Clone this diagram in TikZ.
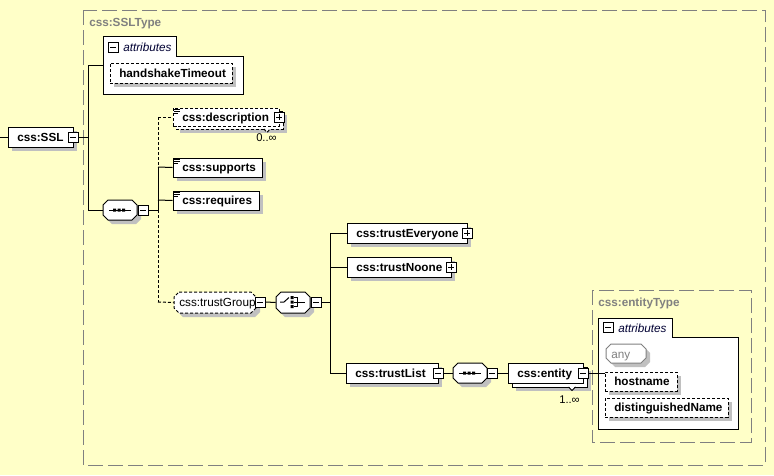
\documentclass[tikz,border=0pt]{standalone}
\usepackage{fontspec}
\setmainfont{Liberation Sans}
\usetikzlibrary{fit,calc}
\definecolor{bg}{HTML}{FFFFC8}
\definecolor{shd}{HTML}{C0C0C0}
\definecolor{frame}{HTML}{808080}
\tikzset{
  box/.style={draw=black, fill=white, line width=0.75pt, inner sep=0pt},
  lbl/.style={font=\fontsize{8.8}{10}\selectfont\bfseries, inner sep=0pt, anchor=base west},
  rlbl/.style={font=\fontsize{8.8}{10}\selectfont, inner sep=0pt, anchor=base west},
  occ/.style={font=\fontsize{8.4}{10}\selectfont, inner sep=0pt, anchor=base west},
  conn/.style={line width=0.75pt},
  opt/.style={dash pattern=on 2.25pt off 1.5pt},
  outer/.style={draw=frame, line width=0.75pt, dash pattern=on 11pt off 4pt},
  thinl/.style={line width=0.75pt},
}
% rectangle element with shadow
\newcommand\xelem[7][]{%
  \fill[shd] ({#3+4},{#4+4}) rectangle ({#5+4},{#6+4});
  \node[box,#1,fit={(#3,#4)(#5,#6)}] (#2) {};
  \node[lbl] at ({#3+9},{(#4+#6)/2+4.3}) {#7};
}
% plus / minus box
\newcommand\xpm[4]{%
  \node[box, minimum size=7.5pt] (#1) at (#2,#3) {};
  \draw[thinl] ({#2-3},#3) -- ({#2+3},#3);
  \ifx#4p\draw[thinl] (#2,{#3-3}) -- (#2,{#3+3});\fi
}
% octagon compositor
\newcommand\xoct[7][]{%
  \fill[shd] ({#3+#7+4},{#4+4}) -- ({#5-#7+4},{#4+4}) -- ({#5+4},{#4+#7+4}) -- ({#5+4},{#6-#7+4}) -- ({#5-#7+4},{#6+4}) -- ({#3+#7+4},{#6+4}) -- ({#3+4},{#6-#7+4}) -- ({#3+4},{#4+#7+4}) -- cycle;
  \draw[box,#1] ({#3+#7},#4) -- ({#5-#7},#4) -- (#5,{#4+#7}) -- (#5,{#6-#7}) -- ({#5-#7},#6) -- ({#3+#7},#6) -- (#3,{#6-#7}) -- (#3,{#4+#7}) -- cycle;
  \node[inner sep=0pt, fit={(#3,#4)(#5,#6)}] (#2) {};
}
% content icon
\newcommand\xico[2]{%
  \draw[line width=0.6pt] (#1,#2) -- ({#1+6},#2) ({#1},{#2+2}) -- ({#1+6},{#2+2}) ({#1},{#2+4}) -- ({#1+4},{#2+4});
}
\begin{document}
\begin{tikzpicture}[x=0.75pt,y=-0.75pt]
\fill[bg] (0,0) rectangle (774,475);
\useasboundingbox (0,0) rectangle (774,475);

% outer type frame
\draw[outer] (83,10) rectangle (765,465);
\node[lbl, text=frame] (ssltype) at (89,26) {css:SSLType};

% css:SSL
\xelem{ssl}{8}{127}{73}{147}{css:SSL}
\xpm{sslm}{73}{137}{m}
\coordinate (lin) at (0,137);
\draw[conn] (lin) -- (ssl.west);
\coordinate (j1) at (88,137);
\coordinate (ja) at (103,65);
\draw[conn] (sslm.east) -- (j1);
\draw[conn] (j1) |- (ja);

% attributes
\draw[box] (103,36) -- (176,36) -- (176,56) -- (243,56) -- (243,94) -- (103,94) -- cycle;
\node[inner sep=0pt, fit={(103,36)(243,94)}] (attr1) {};
\xpm{attr1m}{113}{47}{m}
\node[rlbl, font=\fontsize{8.8}{10}\selectfont\itshape, text=black!80!blue] at (123,51) {attributes};
\xelem[opt]{hst}{110}{63}{232}{83}{handshakeTimeout}

% sequence 1
\xoct{seq1}{103}{200}{137}{220}{5}
\draw[thinl] (109,210) -- (131,210);
\fill (113,208.5) rectangle (116,211.5) (117.5,208.5) rectangle (120.5,211.5) (122,208.5) rectangle (125,211.5);
\xpm{seq1m}{143}{210}{m}
\draw[conn] (j1) |- (seq1.west);
\coordinate (j2) at (158,210);
\draw[conn] (seq1m.east) -- (j2);
\coordinate (j2t) at (158,117);
\coordinate (j2s) at (158,167);
\coordinate (j2b) at (158,302);
\draw[conn,opt] (j2t) -- (j2s);
\draw[conn] (j2s) -- (j2);
\draw[conn,opt] (j2) -- (j2b);

% description (stacked)
\fill[shd] (180,115) rectangle (287,133);
\node[box,opt,fit={(176,111)(283,129)}] (descb) {};
\node[box,opt,fit={(173,108)(279,126)}] (desc) {};
\fill[white] (263.5,128) -- (270.5,128) -- (267,132) -- cycle;
\draw[thinl,opt] (264,129) -- (267,132.5) -- (270,129);
\xico{174}{109}
\node[lbl] at (182,121.5) {css:description};
\xpm{descp}{279}{117}{p}
\node[occ] at (256,141) {0..∞};
\draw[conn,opt] (j2t) -- (desc.west |- j2t);

% supports / requires
\xelem{sup}{173}{158}{262}{177}{css:supports}
\xico{174}{159}
\draw[conn] (j2s) -- (sup.west);
\xelem{req}{173}{191}{259}{210}{css:requires}
\xico{174}{192}
\coordinate (j2r) at (158,200);
\draw[conn] (j2r) -- (req.west);

% trustGroup
\xoct[opt]{tg}{174}{292}{256}{313}{5}
\node[rlbl] at (179,306.5) {css:trustGroup};
\xpm{tgm}{260}{302}{m}
\draw[conn,opt] (j2b) -- (tg.west);

% choice
\xoct{ch}{276}{292}{310}{313}{5}
\draw[thinl] (280,302) -- (284,302) -- (289,297.5);
\fill (290.5,296) rectangle (293.5,299) (290.5,300.5) rectangle (293.5,303.5) (290.5,305) rectangle (293.5,308);
\draw[thinl] (293.5,297.5) -- (297,297.5) -- (297,306.5) -- (293.5,306.5) (293.5,302) -- (297,302) (297,302) -- (305,302);
\xpm{chm}{316}{302}{m}
\draw[conn] (tgm.east) -- (ch.west);
\coordinate (j3) at (330,302);
\coordinate (j3t) at (330,233);
\coordinate (j3b) at (330,373);
\draw[conn] (chm.east) -- (j3);
\draw[conn] (j3t) -- (j3b);

% trust elements
\xelem{tev}{347}{223}{467}{243}{css:trustEveryone}
\xpm{tevp}{467}{233}{p}
\draw[conn] (j3t) -- (tev.west);
\xelem{tno}{347}{257}{451}{277}{css:trustNoone}
\xpm{tnop}{451}{267}{p}
\draw[conn] (tno.west -| j3) -- (tno.west);
\xelem{tl}{346}{363}{438}{383}{css:trustList}
\xpm{tlm}{438}{373}{m}
\draw[conn] (j3b) -- (tl.west);

% sequence 2
\xoct{seq2}{453}{363}{487}{383}{5}
\draw[thinl] (459,373) -- (481,373);
\fill (463,371.5) rectangle (466,374.5) (467.5,371.5) rectangle (470.5,374.5) (472,371.5) rectangle (475,374.5);
\xpm{seq2m}{492}{373}{m}
\draw[conn] (tlm.east) -- (seq2.west);

% entity (stacked)
\fill[shd] (516,371) rectangle (591,391);
\node[box,fit={(512,367)(587,387)}] (entb) {};
\node[box,fit={(508,363)(583,383)}] (ent) {};
\fill[white] (568.5,386) -- (575.5,386) -- (572,390) -- cycle;
\draw[thinl] (568.5,387) -- (572,390.5) -- (575.5,387);
\node[lbl] at (517,377.3) {css:entity};
\xpm{entm}{583}{373}{m}
\node[occ] at (559,403) {1..∞};
\draw[conn] (seq2m.east) -- (ent.west);

% entityType
\draw[outer] (592,290) rectangle (751,442);
\node[lbl, text=frame] (etype) at (598,306) {css:entityType};
\draw[box] (598,318) -- (672,318) -- (672,337) -- (738,337) -- (738,429) -- (598,429) -- cycle;
\node[inner sep=0pt, fit={(598,318)(738,429)}] (attr2) {};
\xpm{attr2m}{608}{327.5}{m}
\node[rlbl, font=\fontsize{8.8}{10}\selectfont\itshape, text=black!80!blue] at (618,332) {attributes};
\xoct[draw=frame]{any}{606}{344}{646}{363}{5}
\node[rlbl, text=frame] at (611,358) {any};
\xelem[opt]{host}{605}{372}{677}{391}{hostname}
\xelem[opt]{dn}{605}{398}{728}{417}{distinguishedName}
\coordinate (je) at (605,373);
\draw[conn] (entm.east) -- (je);
\end{tikzpicture}
\end{document}
